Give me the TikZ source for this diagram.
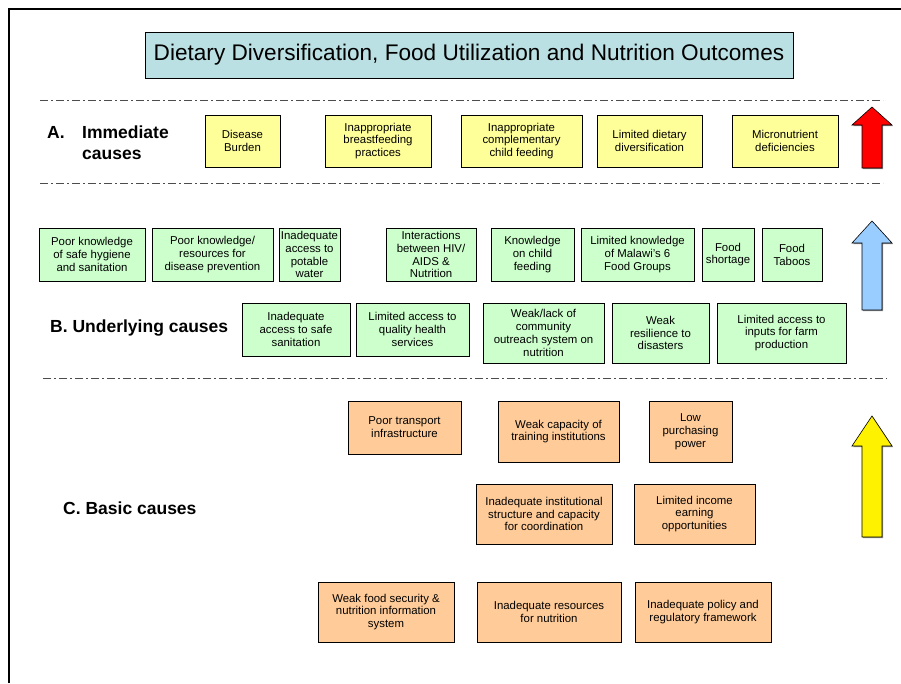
\documentclass[tikz,border=0pt]{standalone}
\usepackage{fontspec}
\setmainfont{Liberation Sans}
\usetikzlibrary{shadows}
\definecolor{titleteal}{RGB}{187,224,227}
\definecolor{boxyellow}{RGB}{255,255,153}
\definecolor{boxgreen}{RGB}{204,255,204}
\definecolor{boxorange}{RGB}{255,204,153}
\definecolor{arrowblue}{RGB}{153,204,255}
\begin{document}
\begin{tikzpicture}[x=1pt, y=-1pt,
    shade/.style={drop shadow={shadow xshift=1.2pt, shadow yshift=-1.2pt, fill=black!45, opacity=1}},
    box/.style={draw, line width=0.8pt, align=center, inner sep=0.5pt, shade,
      font=\fontsize{11.4}{12.9}\selectfont},
    ybox/.style={box, fill=boxyellow},
    gbox/.style={box, fill=boxgreen},
    obox/.style={box, fill=boxorange},
    lbl/.style={anchor=west, align=left, inner sep=0pt,
      font=\fontsize{17.5}{21}\selectfont\bfseries},
    sep/.style={black!70, line width=0.8pt, dash pattern=on 8pt off 3pt on 2pt off 3pt}]
  \useasboundingbox (0,0) rectangle (901,683);
  \draw[line width=2pt] (9,683) -- (9,9) -- (901,9);

  \node[draw, line width=0.8pt, fill=titleteal, minimum width=648, minimum height=46,
    font=\fontsize{22.6}{26}\selectfont] (title) at (469,55)
    {Dietary Diversification, Food Utilization and Nutrition Outcomes};

  \draw[sep] (40,100) -- (883,100);
  \draw[sep] (40,183) -- (883,183);
  \draw[sep] (43,378) -- (887,378);

  % immediate causes
  \node[lbl] (alab) at (47,132) {A.};
  \node[lbl] (atext) at (82,142.5) {Immediate\\causes};
  \node[ybox, minimum width=75, minimum height=52] (disease) at (242.5,141) {Disease\\Burden};
  \node[ybox, minimum width=106, minimum height=52] (breast) at (378,141) {Inappropriate\\breastfeeding\\practices};
  \node[ybox, minimum width=121, minimum height=52] (compl) at (521.5,141) {Inappropriate\\complementary\\child feeding};
  \node[ybox, minimum width=105, minimum height=52] (diet) at (649.5,141) {Limited dietary\\diversification};
  \node[ybox, minimum width=106, minimum height=52] (micro) at (785,141) {Micronutrient\\deficiencies};

  % underlying causes
  \node[gbox, minimum width=106, minimum height=53] (hygiene) at (92,254.5) {Poor knowledge\\of safe hygiene\\and sanitation};
  \node[gbox, minimum width=121, minimum height=53] (prevent) at (212.5,254.5) {Poor knowledge/\\resources for\\disease prevention};
  \node[gbox, minimum width=61, minimum height=53] (water) at (309.5,254.5) {Inadequate\\access to\\potable\\water};
  \node[gbox, minimum width=90, minimum height=53] (hiv) at (431,254.5) {Interactions\\between HIV/\\AIDS \&\\Nutrition};
  \node[gbox, minimum width=83, minimum height=53] (feeding) at (532.5,254.5) {Knowledge\\on child\\feeding};
  \node[gbox, minimum width=113, minimum height=53] (groups) at (637.5,254.5) {Limited knowledge\\of Malawi's 6\\Food Groups};
  \node[gbox, minimum width=52, minimum height=53] (shortage) at (728,254.5) {Food\\shortage};
  \node[gbox, minimum width=60, minimum height=53] (taboos) at (792,254.5) {Food\\Taboos};

  \node[lbl] (blab) at (50,328) {B. Underlying causes};
  \node[gbox, minimum width=108, minimum height=53] (sanit) at (296,329.5) {Inadequate\\access to safe\\sanitation};
  \node[gbox, minimum width=113, minimum height=53] (health) at (412.5,329.5) {Limited access to\\quality health\\services};
  \node[gbox, minimum width=121, minimum height=60] (outreach) at (543.5,333) {Weak/lack of\\community\\outreach system on\\nutrition};
  \node[gbox, minimum width=97, minimum height=60] (resil) at (660.5,333) {Weak\\resilience to\\disasters};
  \node[gbox, minimum width=129, minimum height=60] (inputs) at (781.5,333) {Limited access to\\inputs for farm\\production};

  % basic causes
  \node[lbl] (clab) at (63,508) {C. Basic causes};
  \node[obox, minimum width=113, minimum height=53] (transport) at (404.5,427.5) {Poor transport\\infrastructure};
  \node[obox, minimum width=121, minimum height=61] (training) at (558.5,431.5) {Weak capacity of\\training institutions};
  \node[obox, minimum width=83, minimum height=61] (purchase) at (690.5,431.5) {Low\\purchasing\\power};
  \node[obox, minimum width=136, minimum height=60] (instit) at (544,514) {Inadequate institutional\\structure and capacity\\for coordination};
  \node[obox, minimum width=121, minimum height=60] (income) at (694.5,514) {Limited income\\earning\\opportunities};
  \node[obox, minimum width=136, minimum height=60] (infosys) at (386,612) {Weak food security \&\\nutrition information\\system};
  \node[obox, minimum width=144, minimum height=60] (resources) at (549,612) {Inadequate resources\\for nutrition};
  \node[obox, minimum width=136, minimum height=60] (policy) at (703,612) {Inadequate policy and\\regulatory framework};

  % upward arrows
  \foreach \tip/\base/\bot/\col in {107/125/168/red, 221/243/310/arrowblue, 416/446/537/yellow}
    \draw[fill=\col, line width=0.6pt, shade] (862,\bot) -- (862,\base) -- (852,\base) -- (872,\tip)
      -- (892,\base) -- (882,\base) -- (882,\bot) -- cycle;
\end{tikzpicture}
\end{document}
